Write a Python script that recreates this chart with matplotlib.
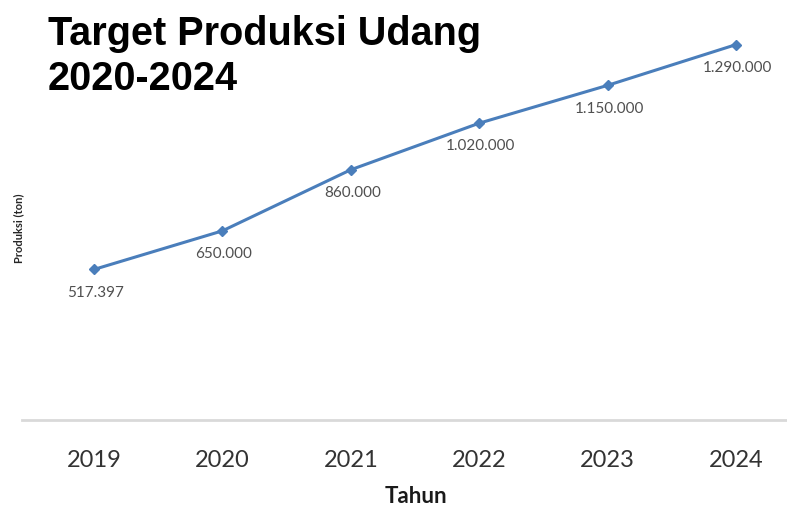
import matplotlib.pyplot as plt

tahun = ["2019", "2020", "2021", "2022", "2023", "2024"]
produksi = [517397, 650000, 860000, 1020000, 1150000, 1290000]
label_teks = ["517.397", "650.000", "860.000", "1.020.000", "1.150.000", "1.290.000"]

fig = plt.figure(figsize=(7.87, 5.06), dpi=100)
ax = fig.add_axes([22 / 787, 1 - 421 / 506, 1 - 22 / 787, 401 / 506])

x = list(range(len(tahun)))
ax.plot(x, produksi, color="#4a7ebb", lw=2.2, marker="D", ms=5.5, mec="#4a7ebb", mfc="#4a7ebb")

for xi, yi, t in zip(x, produksi, label_teks):
    ax.annotate(t, (xi, yi), xytext=(1, -16), textcoords="offset points",
                ha="center", va="center", fontsize=11, color="#505050", family="Lato")

ax.set_xlim(-0.561, 5.397)
ax.set_ylim(0, 1378000)
ax.set_xticks(x)
ax.set_xticklabels(tahun, fontsize=17, color="#333333", family="Lato")
ax.tick_params(axis="x", length=0, pad=21)
ax.set_yticks([])
for s in ["top", "right", "left"]:
    ax.spines[s].set_visible(False)
ax.spines["bottom"].set_color("#d9d9d9")
ax.spines["bottom"].set_linewidth(2)

fig.text(416 / 787, 1 - 497 / 506, "Tahun", ha="center", va="center",
         fontsize=16, fontweight="bold", color="#1a1a1a", family="Lato")
fig.text(19 / 787, 1 - 228 / 506, "Produksi (ton)", rotation=90, ha="center", va="center",
         fontsize=8, fontweight="bold", color="#262626", family="Lato")

fig.text(48 / 787, 1 - 45 / 506, "Target Produksi Udang", ha="left", va="baseline",
         fontsize=28.5, fontweight="bold", color="black", family="Liberation Sans")
fig.text(48 / 787, 1 - 90 / 506, "2020-2024", ha="left", va="baseline",
         fontsize=28.5, fontweight="bold", color="black", family="Liberation Sans")

fig.savefig("out.png", dpi=100)
